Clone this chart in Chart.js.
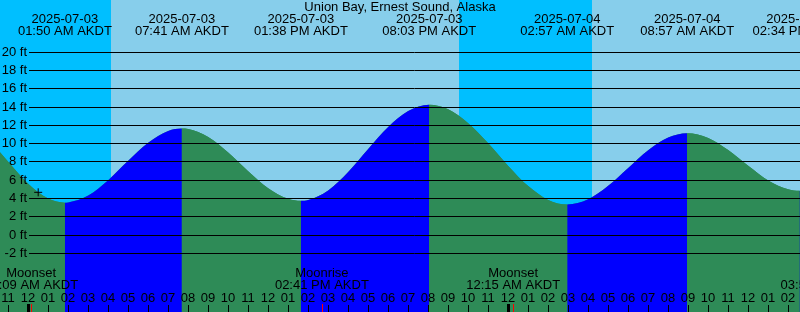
<!DOCTYPE html>
<html>
<head>
<meta charset="utf-8">
<script src="https://cdn.jsdelivr.net/npm/chart.js@4/dist/chart.umd.min.js"></script>
<style>
  html, body { margin: 0; padding: 0; background: #fff; }
  #tide { display: block; }
</style>
</head>
<body>
<canvas id="tide" width="800" height="312"></canvas>
<script>
// Hours are counted from 2025-07-03 00:00 AKDT

// ─── Tide curve (ft) ─── //
const tideHours = [-2, -1, 0, 1, 1.833, 2, 3, 4, 5, 6, 7, 7.683, 8, 9, 10, 11, 12, 13, 13.633,
  14, 15, 16, 17, 18, 19, 20.05, 21, 22, 23, 24, 25, 26, 26.95, 28, 29, 30, 31, 32, 32.95,
  34, 35, 36, 37, 38, 38.567, 39];
const tideFeet = [10.54, 7.96, 5.56, 3.95, 3.5, 3.52, 4.27, 5.95, 8.07, 10.05, 11.33, 11.6, 11.54, 10.68, 8.99, 6.94, 5.08, 3.92, 3.7,
  3.78, 4.83, 6.85, 9.36, 11.77, 13.52, 14.2, 13.7, 12.19, 9.98, 7.52, 5.31, 3.8, 3.3, 3.87, 5.34, 7.3, 9.24, 10.63, 11.1,
  10.57, 9.25, 7.53, 5.93, 4.96, 4.8, 4.85];

// High / low events shown across the top
const tideEventHours = [1.833, 7.683, 13.633, 20.05, 26.95, 32.95, 38.567];
const tideEventDates = ['2025-07-03', '2025-07-03', '2025-07-03', '2025-07-03', '2025-07-04', '2025-07-04', '2025-07-04'];
const tideEventTimes = ['01:50 AM AKDT', '07:41 AM AKDT', '01:38 PM AKDT', '08:03 PM AKDT', '02:57 AM AKDT', '08:57 AM AKDT', '02:34 PM AKDT'];

// Moon events along the bottom
const moonHours = [0.15, 14.683, 24.25, 39.967];
const moonNames = ['Moonset', 'Moonrise', 'Moonset', 'Moonrise'];
const moonTimes = ['12:09 AM AKDT', '02:41 PM AKDT', '12:15 AM AKDT', '03:58 PM AKDT'];

// Night (sunset → sunrise)
const nightStarts = [-2, 21.54];
const nightEnds = [4.125, 28.175];

// Current-time marker
const nowHour = 0.5;
const nowFeet = 4.63;

// Axis ticks
const yTickFeet = [-2, 0, 2, 4, 6, 8, 10, 12, 14, 16, 18, 20];
const hourTicks = [];
for (let h = -2; h <= 40; h++) hourTicks.push(h);
const midnightHours = [0, 24];

const X_MIN = -1.41, X_MAX = 38.59;
const Y_MIN = -8.45, Y_MAX = 25.65;

const COLORS = {
  day: '#87ceeb',
  night: '#00bfff',
  flood: '#0000ff',
  ebb: '#2e8b57',
  grid: '#000000',
  text: '#000000',
  moon: '#ff0000',
};
const FONT = '13px "Liberation Sans", Arial, sans-serif';

function hourLabel(h) {
  const hh = ((h % 24) + 24) % 24;
  const h12 = hh % 12 === 0 ? 12 : hh % 12;
  return String(h12).padStart(2, '0');
}

// ─── Sky bands behind the water ─── //
const skyPlugin = {
  id: 'sky',
  beforeDatasetsDraw(chart) {
    const { ctx, chartArea: a, scales: { x } } = chart;
    ctx.save();
    ctx.fillStyle = COLORS.day;
    ctx.fillRect(a.left, a.top, a.right - a.left, a.bottom - a.top);
    ctx.fillStyle = COLORS.night;
    nightStarts.forEach((s, i) => {
      const x0 = Math.round(x.getPixelForValue(s));
      const x1 = Math.round(x.getPixelForValue(nightEnds[i]));
      ctx.fillRect(x0, a.top, x1 - x0, a.bottom - a.top);
    });
    ctx.restore();
  }
};

// ─── Grid, labels, ticks on top ─── //
const overlayPlugin = {
  id: 'overlay',
  afterDatasetsDraw(chart) {
    const { ctx, chartArea: a, scales: { x, y } } = chart;
    ctx.save();
    ctx.font = FONT;
    ctx.fillStyle = COLORS.text;
    ctx.textBaseline = 'middle';

    // horizontal lines + ft labels
    ctx.strokeStyle = COLORS.grid;
    ctx.lineWidth = 1;
    yTickFeet.forEach(v => {
      const py = Math.round(y.getPixelForValue(v)) + 0.5;
      ctx.beginPath();
      ctx.moveTo(29, py);
      ctx.lineTo(a.right, py);
      ctx.stroke();
      ctx.textAlign = 'right';
      ctx.fillText(v + ' ft', 27, py);
    });

    // title + tide events
    ctx.textAlign = 'center';
    ctx.fillText('Union Bay, Ernest Sound, Alaska', 400, 7);
    tideEventHours.forEach((h, i) => {
      const px = x.getPixelForValue(h);
      ctx.fillText(tideEventDates[i], px, 19.5);
      ctx.fillText(tideEventTimes[i], px, 31.5);
    });

    // moon events
    moonHours.forEach((h, i) => {
      const px = x.getPixelForValue(h);
      ctx.fillText(moonNames[i], px, 273.5);
      ctx.fillText(moonTimes[i], px, 285.5);
    });

    // hour labels and ticks
    hourTicks.forEach(h => {
      const px = Math.round(x.getPixelForValue(h));
      ctx.fillText(hourLabel(h), px, 298);
      ctx.fillRect(px, 305, 1, 7);
    });
    midnightHours.forEach(h => {
      const px = Math.round(x.getPixelForValue(h));
      ctx.fillRect(px - 1, 304, 3, 8);
    });
    ctx.fillStyle = COLORS.moon;
    moonHours.forEach(h => {
      const px = Math.round(x.getPixelForValue(h));
      ctx.fillRect(px, 304, 1, 8);
    });
    ctx.restore();
  }
};

const tidePoints = tideHours.map((h, i) => ({ x: h, y: tideFeet[i] }));

const waterStyle = {
  data: tidePoints,
  fill: 'start',
  borderColor: 'rgba(0,0,0,0)',
  borderWidth: 0,
  pointRadius: 0,
  cubicInterpolationMode: 'monotone',
};

new Chart(document.getElementById('tide'), {
  type: 'line',
  data: {
    datasets: [
      {
        type: 'scatter',
        data: [{ x: nowHour, y: nowFeet }],
        pointStyle: 'cross',
        pointRadius: 4,
        borderColor: '#000',
        borderWidth: 1,
        order: 0,
      },
      {
        // flood (rising) in blue, ebb (falling) in green
        ...waterStyle,
        backgroundColor: COLORS.ebb,
        segment: {
          backgroundColor: ctx => ctx.p1.parsed.y > ctx.p0.parsed.y ? COLORS.flood : COLORS.ebb,
        },
        order: 1,
      },
      {
        // plain under-layer so segment joins leave no seam
        ...waterStyle,
        backgroundColor: COLORS.ebb,
        order: 2,
      }
    ]
  },
  options: {
    responsive: false,
    animation: false,
    layout: { padding: 0, autoPadding: false },
    scales: {
      x: { type: 'linear', min: X_MIN, max: X_MAX, display: false },
      y: { type: 'linear', min: Y_MIN, max: Y_MAX, display: false }
    },
    plugins: {
      legend: { display: false },
      tooltip: { enabled: false },
    }
  },
  plugins: [skyPlugin, overlayPlugin]
});
</script>
</body>
</html>
